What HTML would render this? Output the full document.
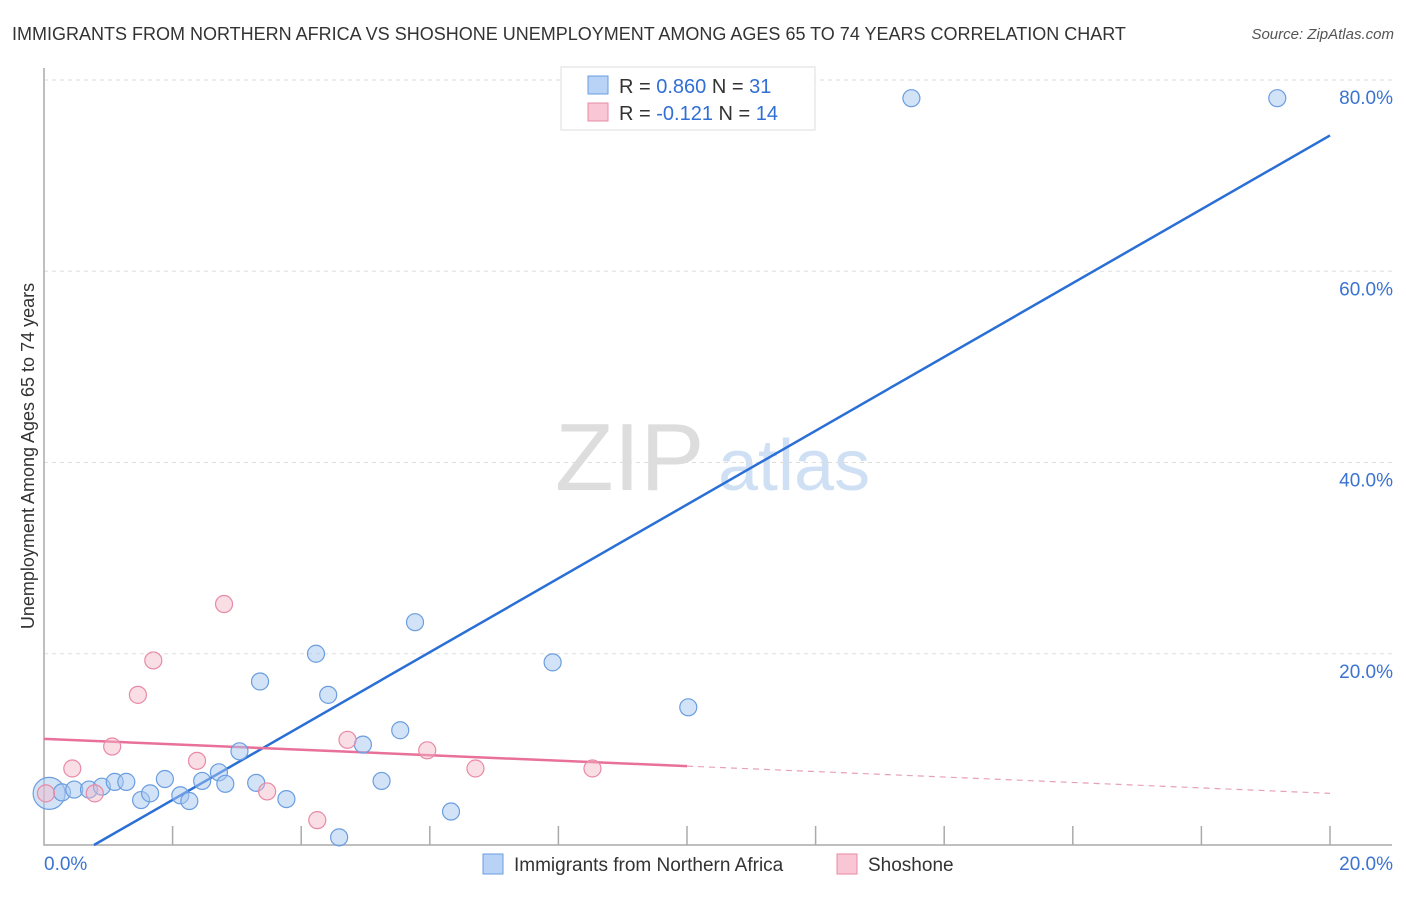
<!DOCTYPE html>
<html><head><meta charset="utf-8"><style>
body{margin:0;background:#fff;font-family:"Liberation Sans",sans-serif;}
svg text{font-family:"Liberation Sans",sans-serif;}
</style></head><body>
<svg width="1406" height="892">
<text x="12" y="40" font-size="18" fill="#333">IMMIGRANTS FROM NORTHERN AFRICA VS SHOSHONE UNEMPLOYMENT AMONG AGES 65 TO 74 YEARS CORRELATION CHART</text>
<text x="1394" y="39" font-size="15" fill="#555" font-style="italic" text-anchor="end">Source: ZipAtlas.com</text>
<text x="555" y="490" font-size="96" fill="#ddd" font-family="Liberation Serif">ZIP</text>
<text x="718" y="490" font-size="72" fill="#cfe0f5">atlas</text>
<g id="grid"></g><g id="axes"></g><g id="lines"></g><g id="pts"></g>
<text transform="translate(34,456) rotate(-90)" font-size="18" fill="#333" text-anchor="middle">Unemployment Among Ages 65 to 74 years</text>
<g>
<rect x="561" y="67" width="254" height="63" fill="#fff" stroke="#ddd"/>
<rect x="588" y="76" width="20" height="18" fill="#b8d3f5" stroke="#6a9de0"/>
<text x="619" y="93" font-size="20" fill="#333">R = <tspan fill="#2f6fd6">0.860</tspan>   N = <tspan fill="#2f6fd6">31</tspan></text>
<rect x="588" y="103" width="20" height="18" fill="#f8c6d4" stroke="#e88aa5"/>
<text x="619" y="120" font-size="20" fill="#333">R = <tspan fill="#2f6fd6">-0.121</tspan>   N = <tspan fill="#2f6fd6">14</tspan></text>
</g>
<g>
<rect x="483" y="854" width="20" height="20" fill="#b8d3f5" stroke="#6a9de0"/>
<text x="514" y="871" font-size="19" fill="#333">Immigrants from Northern Africa</text>
<rect x="837" y="854" width="20" height="20" fill="#f8c6d4" stroke="#e88aa5"/>
<text x="868" y="871" font-size="19" fill="#333">Shoshone</text>
</g>
</svg>
<script>
const blueX=[0.08,0.28,0.47,0.70,0.90,1.10,1.28,1.51,1.65,1.88,2.12,2.26,2.46,2.72,2.82,3.04,3.30,3.36,3.77,4.23,4.42,4.59,4.96,5.25,5.54,5.77,6.33,7.91,10.02,13.49,19.18];
const blueY=[5.4,5.5,5.8,5.8,6.1,6.6,6.6,4.7,5.4,6.9,5.2,4.6,6.7,7.6,6.4,9.8,6.5,17.1,4.8,20.0,15.7,0.8,10.5,6.7,12.0,23.3,3.5,19.1,14.4,78.1,78.1];
const pinkX=[0.03,0.44,0.79,1.06,1.46,1.70,2.38,2.80,3.47,4.25,4.72,5.96,6.71,8.53];
const pinkY=[5.4,8.0,5.4,10.3,15.7,19.3,8.8,25.2,5.6,2.6,11.0,9.9,8.0,8.0];
const yTicks=[20,40,60,80];
const blueFit=[-3.0,3.86];
const pinkFit=[11.1,-0.285];
const X=v=>44+v*64.3, Y=v=>845-v*9.5625;
const NS='http://www.w3.org/2000/svg';
function mk(p,t,a){const e=document.createElementNS(NS,t);for(const k in a)e.setAttribute(k,a[k]);document.getElementById(p).appendChild(e);return e;}
yTicks.forEach(t=>{
 const g=mk('grid','line',{x1:44,x2:1392,y1:Y(t),y2:Y(t),stroke:'#ddd','stroke-dasharray':'4,4'});
 
 
 const l=mk('grid','text',{x:1393,y:Y(t)+24,'font-size':19,fill:'#3b73d1','text-anchor':'end'});
 l.textContent=t.toFixed(1)+'%';
 
 
});
const ax=mk('axes','path',{d:'M44,68V845H1392',stroke:'#aaa',fill:'none','stroke-width':1.5});


for(let i=1;i<=10;i++){const t=mk('axes','line',{x1:X(i*2),x2:X(i*2),y1:826,y2:845,stroke:'#aaa','stroke-width':1.5});
 
 }
[['0.0%',44,'start'],['20.0%',1393,'end']].forEach(([s,x,a])=>{const t=mk('axes','text',{x:x,y:870,'font-size':19,fill:'#3b73d1','text-anchor':a});t.textContent=s;
 
 });
const x0=-blueFit[0]/blueFit[1];
const bl=mk('lines','line',{x1:X(x0),y1:Y(0),x2:X(20),y2:Y(blueFit[0]+blueFit[1]*20),stroke:'#2a6fd6','stroke-width':2.5});


const pl=mk('lines','line',{x1:X(0),y1:Y(pinkFit[0]),x2:X(10),y2:Y(pinkFit[0]+pinkFit[1]*10),stroke:'#e8709a','stroke-width':2.5});


const pd=mk('lines','line',{x1:X(10),y1:Y(pinkFit[0]+pinkFit[1]*10),x2:X(20),y2:Y(pinkFit[0]+pinkFit[1]*20),stroke:'#e8a0b8','stroke-width':1.2,'stroke-dasharray':'6,5'});


blueX.forEach((v,i)=>{const c=mk('pts','circle',{cx:X(v),cy:Y(blueY[i]),r:i==0?16:8.5,fill:'rgba(168,200,240,0.5)',stroke:'#6a9de0','stroke-width':1.2});
 
 });
pinkX.forEach((v,i)=>{const c=mk('pts','circle',{cx:X(v),cy:Y(pinkY[i]),r:8.5,fill:'rgba(244,182,200,0.45)',stroke:'#e88aa5','stroke-width':1.2});
 
 });
</script>
</body></html>
